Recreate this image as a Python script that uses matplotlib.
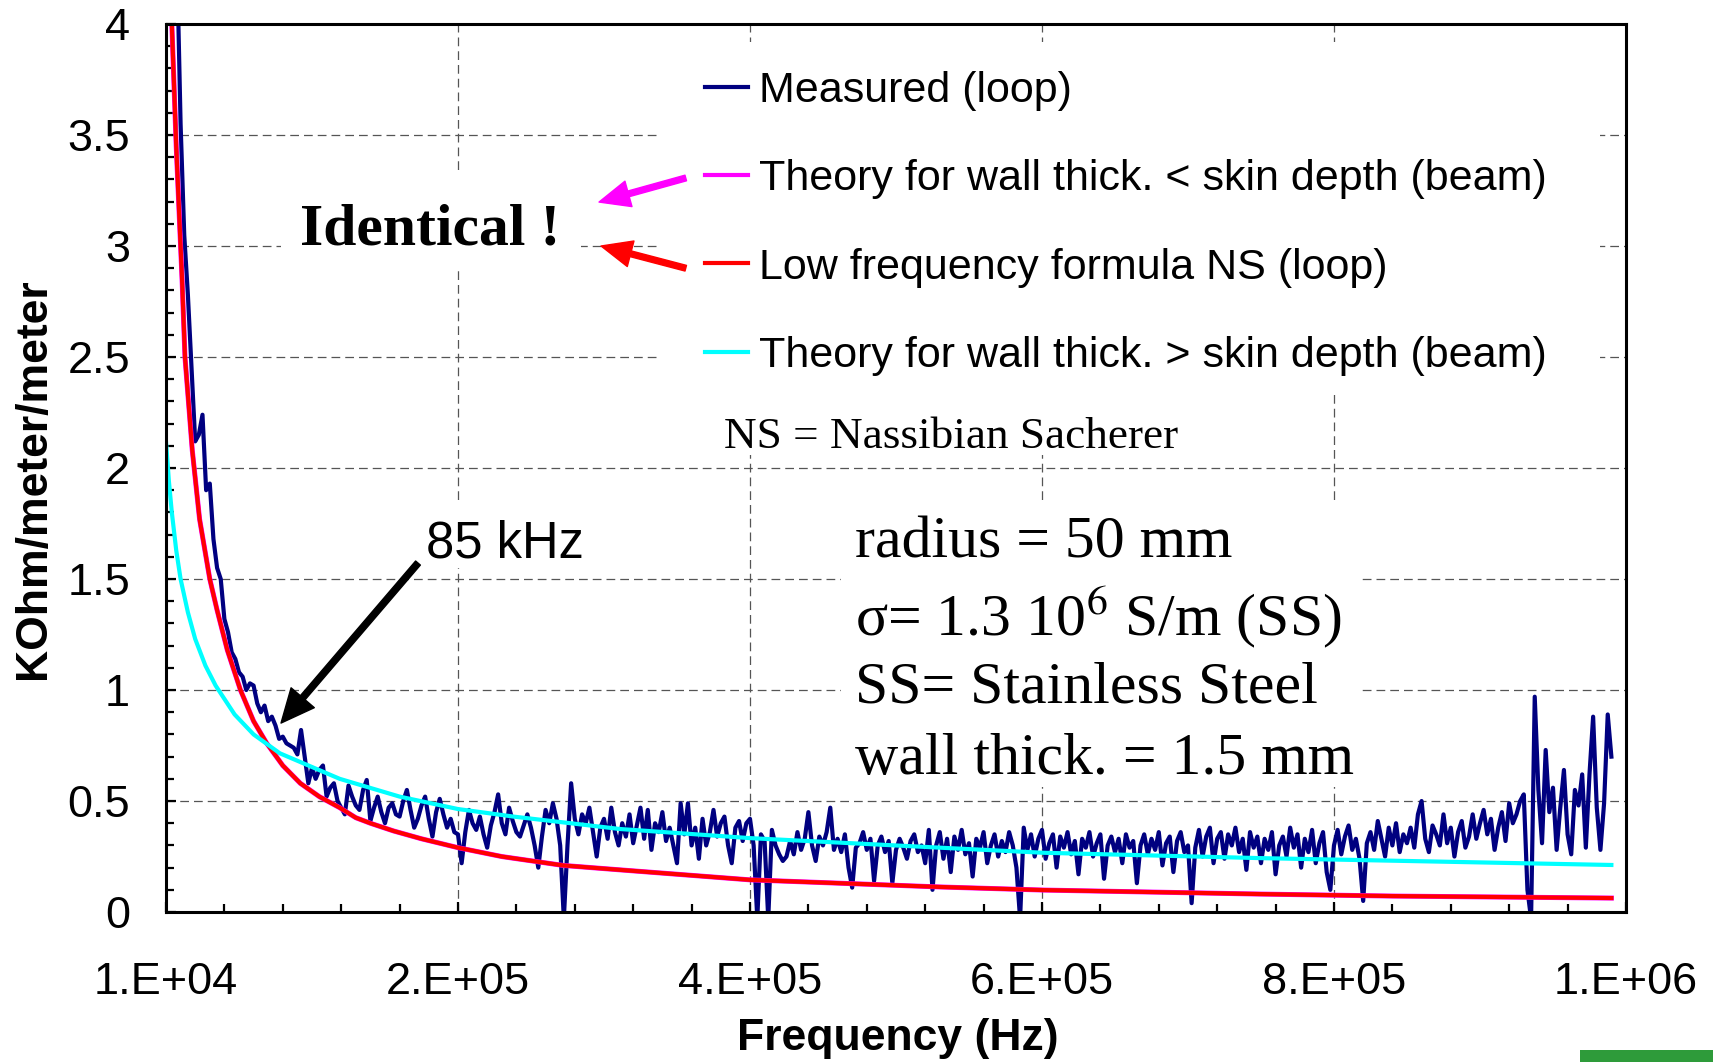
import numpy as np
import matplotlib
matplotlib.use('Agg')
import matplotlib.pyplot as plt
from matplotlib.patches import Rectangle
from matplotlib.ticker import FixedLocator

# ---------------- data ----------------
meas_f_start_khz = 10.0
meas_f_step_khz = 2.5
measured = [
    7.0, 5.8, 4.9, 4.3, 3.55, 3.05, 2.78, 2.45, 2.12, 2.15,
    2.24, 1.9, 1.93, 1.68, 1.55, 1.50, 1.32, 1.26, 1.17, 1.14,
    1.08, 1.06, 1.0, 1.03, 1.02, 0.94, 0.90, 0.93, 0.86, 0.88,
    0.84, 0.78, 0.79, 0.76, 0.75, 0.74, 0.71, 0.82, 0.70, 0.58,
    0.65, 0.60, 0.64, 0.66, 0.52, 0.56, 0.58, 0.50, 0.47, 0.44,
    0.57, 0.52, 0.48, 0.46, 0.55, 0.595, 0.41, 0.47, 0.52, 0.45,
    0.40, 0.47, 0.49, 0.44, 0.43, 0.50, 0.55, 0.46, 0.38, 0.42,
    0.48, 0.52, 0.42, 0.34, 0.45, 0.51, 0.44, 0.38, 0.42, 0.36,
    0.35, 0.22, 0.36, 0.46, 0.40, 0.37, 0.43, 0.35, 0.29, 0.39,
    0.45, 0.53, 0.40, 0.35, 0.47, 0.41, 0.36, 0.34, 0.39, 0.44,
    0.38, 0.30, 0.20, 0.34, 0.46, 0.40, 0.49, 0.42, 0.30, -0.03,
    0.30, 0.58, 0.42, 0.35, 0.44, 0.40, 0.47, 0.36, 0.25, 0.38,
    0.42, 0.33, 0.47, 0.36, 0.30, 0.40, 0.34, 0.44, 0.31, 0.39,
    0.47, 0.33, 0.46, 0.28, 0.40, 0.36, 0.45, 0.32, 0.38, 0.30,
    0.22, 0.49, 0.35, 0.49, 0.30, 0.38, 0.24, 0.42, 0.30, 0.36,
    0.46, 0.34, 0.40, 0.43, 0.30, 0.22, 0.38, 0.41, 0.32, 0.40,
    0.42, 0.30, -0.03, 0.35, 0.32, -0.03, 0.37, 0.30, 0.26, 0.23,
    0.25, 0.32, 0.26, 0.36, 0.28, 0.33, 0.45, 0.30, 0.23, 0.34,
    0.30, 0.36, 0.47, 0.28, 0.33, 0.27, 0.35, 0.20, 0.11, 0.29,
    0.31, 0.36, 0.28, 0.33, 0.14, 0.30, 0.34, 0.27, 0.32, 0.13,
    0.28, 0.33, 0.29, 0.24, 0.32, 0.35, 0.27, 0.30, 0.22, 0.37,
    0.10, 0.30, 0.36, 0.24, 0.33, 0.18, 0.34, 0.28, 0.37, 0.26,
    0.31, 0.16, 0.33, 0.29, 0.36, 0.22, 0.30, 0.35, 0.25, 0.32,
    0.27, 0.36, 0.30, 0.20, -0.03, 0.38, 0.28, 0.35, 0.25, 0.33,
    0.37, 0.24, 0.31, 0.35, 0.20, 0.34, 0.29, 0.36, 0.26, 0.32,
    0.17, 0.33, 0.29, 0.36, 0.25, 0.31, 0.35, 0.15, 0.30, 0.34,
    0.27, 0.33, 0.22, 0.35, 0.29, 0.32, 0.13, 0.30, 0.35, 0.26,
    0.33, 0.28, 0.36, 0.21, 0.31, 0.34, 0.18, 0.32, 0.36, 0.27,
    0.30, 0.04, 0.29, 0.37, 0.25, 0.34, 0.38, 0.22, 0.33, 0.36,
    0.24, 0.35, 0.30, 0.38, 0.27, 0.33, 0.19, 0.36, 0.29, 0.34,
    0.22, 0.33, 0.28, 0.36, 0.17, 0.30, 0.34, 0.25, 0.38, 0.29,
    0.35, 0.20, 0.33, 0.27, 0.37, 0.22, 0.31, 0.36, 0.18, 0.10,
    0.30, 0.37, 0.26, 0.34, 0.39, 0.28, 0.33, 0.24, 0.05, 0.31,
    0.36, 0.28, 0.41, 0.33, 0.25, 0.38, 0.30, 0.40, 0.27, 0.35,
    0.31, 0.38, 0.29, 0.44, 0.50, 0.33, 0.27, 0.39, 0.35, 0.30,
    0.44, 0.31, 0.38, 0.25, 0.36, 0.41, 0.29, 0.34, 0.44, 0.33,
    0.40, 0.46, 0.35, 0.42, 0.28, 0.38, 0.45, 0.32, 0.49, 0.40,
    0.44, 0.50, 0.53, 0.10, -0.03, 0.97, 0.55, 0.31, 0.73, 0.45,
    0.56, 0.28, 0.47, 0.64, 0.35, 0.26, 0.55, 0.48, 0.62, 0.29,
    0.62, 0.88, 0.47, 0.28, 0.49, 0.89, 0.70,
]

lowfreq_f_khz = [12, 14, 17, 21, 23, 28, 33, 40, 45, 52, 61, 70, 79, 90, 102,
                 115, 129, 140, 150, 166, 185, 210, 240, 282, 321, 410, 540,
                 611, 759, 850, 1000]
lowfreq_vals = [4.6, 4.0, 3.45, 2.85, 2.5, 2.08, 1.77, 1.5, 1.36, 1.18, 1.0,
                0.86, 0.76, 0.66, 0.58, 0.52, 0.47, 0.425, 0.40, 0.365, 0.33,
                0.29, 0.25, 0.21, 0.19, 0.145, 0.113, 0.099, 0.081, 0.072,
                0.063]
# theory for wall thickness < skin depth: identical to the NS formula
thin_f_khz = list(lowfreq_f_khz)
thin_vals = list(lowfreq_vals)

thick_f_khz = [10, 12, 14, 17, 20, 25, 30, 37, 44, 57, 70, 88, 129, 170, 210,
               248, 321, 410, 540, 611, 759, 1000]
thick_vals = [2.12, 1.94, 1.80, 1.63, 1.50, 1.35, 1.23, 1.11, 1.02, 0.89,
              0.80, 0.715, 0.60, 0.52, 0.464, 0.43, 0.374, 0.333, 0.29,
              0.267, 0.243, 0.212]

xtick_vals = [1e4, 2.1e5, 4.1e5, 6.1e5, 8.1e5, 1.01e6]
xtick_labels = ['1.E+04', '2.E+05', '4.E+05', '6.E+05', '8.E+05', '1.E+06']
ytick_vals = [0, 0.5, 1, 1.5, 2, 2.5, 3, 3.5, 4]
ytick_labels = ['0', '0.5', '1', '1.5', '2', '2.5', '3', '3.5', '4']

legend_labels = ['Measured (loop)',
                 'Theory for wall thick. < skin depth (beam)',
                 'Low frequency formula NS (loop)',
                 'Theory for wall thick. > skin depth (beam)']

# ---------------- figure ----------------
SANS = ['Liberation Sans', 'DejaVu Sans']
SERIF = ['Liberation Serif', 'DejaVu Serif']
plt.rcParams['font.family'] = SANS
plt.rcParams['mathtext.fontset'] = 'stix'

fig = plt.figure(figsize=(17.13, 10.62), dpi=100)
ax = fig.add_axes([0.0969, 0.1412, 0.8523, 0.8362])

meas_f = (meas_f_start_khz + meas_f_step_khz * np.arange(len(measured))) * 1e3
l_meas, = ax.plot(meas_f, measured, color='#000080', lw=3.0, zorder=2.0,
                  solid_joinstyle='round')
l_thin, = ax.plot(np.array(thin_f_khz) * 1e3, thin_vals, color='#FF00FF',
                  lw=3.6, zorder=2.1)
l_low, = ax.plot(np.array(lowfreq_f_khz) * 1e3, lowfreq_vals, color='#FF0000',
                 lw=3.0, zorder=2.2)
l_thick, = ax.plot(np.array(thick_f_khz) * 1e3, thick_vals, color='#00FFFF',
                   lw=3.0, zorder=2.3)

ax.set_xlim(1e4, 1.01e6)
ax.set_ylim(0, 4)
ax.xaxis.set_major_locator(FixedLocator(xtick_vals))
ax.set_xticklabels(xtick_labels)
ax.xaxis.set_minor_locator(FixedLocator(np.arange(1e4, 1.01e6 + 1, 4e4)))
ax.yaxis.set_major_locator(FixedLocator(ytick_vals))
ax.set_yticklabels(ytick_labels)
ax.yaxis.set_minor_locator(FixedLocator(np.arange(0, 4.0001, 0.1)))

ax.tick_params(axis='both', which='both', direction='in', width=1.6,
               labelsize=32.5, top=False, right=False)
ax.tick_params(axis='both', which='major', length=7)
ax.tick_params(axis='both', which='minor', length=6)
ax.tick_params(axis='x', which='major', pad=36)
ax.tick_params(axis='y', which='major', pad=26)

for s in ax.spines.values():
    s.set_linewidth(2.2)

ax.set_axisbelow(True)
ax.grid(True, which='major', color='#555555', lw=0.9, linestyle=(0, (7, 4)))

ax.set_xlabel('Frequency (Hz)', fontsize=32, fontweight='bold')
ax.xaxis.set_label_coords(0.501, -0.119)
ax.set_ylabel('KOhm/meter/meter', fontsize=32, fontweight='bold')
ax.yaxis.set_label_coords(-0.077, 0.488)

# white boxes behind the annotations (they hide the grid)
for (x0, y0, w, h) in [(0.079, 0.723, 0.205, 0.109),
                       (0.339, 0.584, 0.643, 0.396),
                       (0.366, 0.515, 0.335, 0.069),
                       (0.462, 0.141, 0.356, 0.320),
                       (0.174, 0.387, 0.116, 0.077)]:
    ax.add_patch(Rectangle((x0, y0), w, h, transform=ax.transAxes,
                           facecolor='white', edgecolor='none', zorder=1))

leg = ax.legend([l_meas, l_thin, l_low, l_thick], legend_labels,
                loc='upper left', bbox_to_anchor=(0.369, 0.947),
                frameon=False, fontsize=31, handlelength=1.0,
                handletextpad=0.25, labelspacing=1.12, borderpad=0,
                borderaxespad=0)
for h in leg.get_lines():
    h.set_linewidth(3)

ax.text(0.181, 0.7675, 'Identical !', transform=ax.transAxes, fontsize=43,
        fontweight='bold', family=SERIF, ha='center', va='center', zorder=4)
ax.text(0.382, 0.535, 'NS = Nassibian Sacherer', transform=ax.transAxes,
        fontsize=32.6, family=SERIF, ha='left', va='center', zorder=4)
ax.text(0.232, 0.415, '85 kHz', transform=ax.transAxes, fontsize=36.5,
        ha='center', va='center', zorder=4)

block = ['radius = 50 mm', 'σ= 1.3 10$^{6}$ S/m (SS)',
         'SS= Stainless Steel', 'wall thick. = 1.5 mm']
for txt, yy in zip(block, [0.415, 0.3328, 0.2518, 0.1707]):
    ax.text(0.472, yy, txt, transform=ax.transAxes, fontsize=43,
            family=SERIF, ha='left', va='center', zorder=4)

def arrow(tail, tip, color, width=4.2, hw=19, hl=22):
    ax.annotate('', xy=tip, xytext=tail, xycoords='axes fraction',
                textcoords='axes fraction', zorder=5,
                arrowprops=dict(facecolor=color, edgecolor=color, width=width,
                                headwidth=hw, headlength=hl, shrink=0))

arrow((0.356, 0.8266), (0.2966, 0.7995), '#FF00FF')
arrow((0.356, 0.725), (0.298, 0.750), '#FF0000')
arrow((0.1726, 0.393), (0.0788, 0.2128), 'black', width=4.5, hw=22, hl=24)

# green bar at the bottom-right corner
fig.add_artist(Rectangle((1580 / 1713, 0), 1 - 1580 / 1713, 12 / 1062,
                         transform=fig.transFigure, facecolor='#2E9B3A',
                         edgecolor='none'))

fig.savefig('out.png', dpi=100)
